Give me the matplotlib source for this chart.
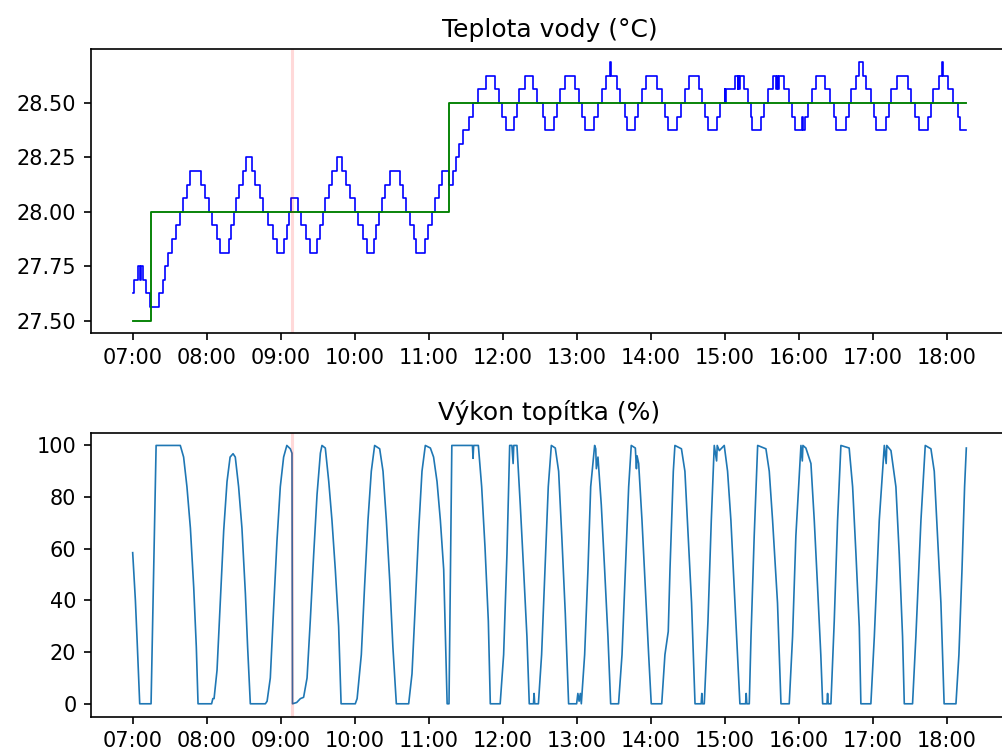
import numpy as np
import matplotlib
matplotlib.use("Agg")
import matplotlib.pyplot as plt
import matplotlib.dates as mdates

# minuty od 07:00
base = np.datetime64('2024-01-01T07:00')

# teplota vody (schody, krok 1/16 °C)
temp_min = [0, 0.8, 4.3, 5.7, 6.8, 8.4, 11, 14.3, 21, 24.6, 26.5, 29, 32, 35.4, 38.6, 41, 44, 46.8,
            55.7, 59, 61.6, 64.3, 68.4, 71, 78, 79.5, 82, 84, 86, 89.5, 92, 96.8, 99.5, 103.5, 106,
            109.5, 114, 117, 122.4, 125, 127, 128.4, 133.8, 136.5, 140.8, 144, 149.5, 151.6, 154,
            156, 159, 161.6, 165.7, 169.7, 173, 176.5, 180.5, 183, 187, 190, 195.4, 197.6, 200, 202,
            205, 209, 217, 219, 221.6, 225, 228, 230, 237.3, 239.5, 242.7, 245, 248, 250.8, 256.8,
            260, 262.5, 265, 268, 272.4, 275.7, 280, 286.5, 294, 296.8, 299.5, 302.7, 309, 311.6,
            313.5, 317.8, 325, 327.8, 332.4, 334.6, 341.4, 344, 346.8, 350.8, 358.4, 361.6, 364, 367,
            373.8, 377.3, 380.5, 383.8, 387.3, 387.8, 392.7, 395.4, 399, 400.8, 407.6, 410, 413, 416,
            425, 429, 432, 434, 441.4, 444.9, 447.6, 450.8, 459, 461.6, 464.3, 466.5, 474, 476, 480,
            480.6, 481, 488.6, 490.5, 491.2, 492, 492.6, 496, 498.6, 501, 502, 509.5, 512, 515, 519.5,
            522, 522.8, 523.5, 524, 528.4, 532, 534.6, 537.3, 542.5, 543.2, 545.4, 547.3, 551, 554,
            561.6, 565.4, 569, 570, 578.4, 580.5, 582.4, 586.5, 588.6, 592.4, 594.6, 598.6, 601,
            602.7, 610.8, 613, 615, 620, 628.4, 631, 634.6, 638, 644.6, 647.3, 648.6, 653.5, 656,
            656.8, 660.8, 665, 669, 671, 676]
temp_val = [27.625, 27.6875, 27.75, 27.6875, 27.75, 27.6875, 27.625, 27.5625, 27.625, 27.6875, 27.75,
            27.8125, 27.875, 27.9375, 28.0, 28.0625, 28.125, 28.1875,
            28.125, 28.0625, 28.0, 27.9375, 27.875, 27.8125, 27.875, 27.9375, 28.0, 28.0625, 28.125,
            28.1875, 28.25, 28.1875, 28.125, 28.0625, 28.0,
            27.9375, 27.875, 27.8125, 27.875, 27.9375, 28.0, 28.0625, 28.0, 27.9375, 27.875, 27.8125,
            27.875, 27.9375, 28.0,
            28.0625, 28.125, 28.1875, 28.25, 28.1875, 28.125, 28.0625, 28.0, 27.9375, 27.875, 27.8125,
            27.875, 27.9375, 28.0, 28.0625,
            28.125, 28.1875, 28.125, 28.0625, 28.0, 27.9375, 27.875, 27.8125, 27.875, 27.9375, 28.0,
            28.0625, 28.125, 28.1875, 28.125,
            28.1875, 28.25, 28.3125, 28.375, 28.4375, 28.5, 28.5625, 28.625, 28.5625, 28.5, 28.4375,
            28.375, 28.4375, 28.5,
            28.5625, 28.625, 28.5625, 28.5, 28.4375, 28.375, 28.4375, 28.5, 28.5625, 28.625, 28.5625,
            28.5, 28.4375, 28.375,
            28.4375, 28.5, 28.5625, 28.625, 28.6875, 28.625, 28.5625, 28.5, 28.4375, 28.375, 28.4375,
            28.5, 28.5625, 28.625,
            28.5625, 28.5, 28.4375, 28.375, 28.4375, 28.5, 28.5625, 28.625, 28.5625, 28.5, 28.4375,
            28.375, 28.4375, 28.5, 28.5625,
            28.5, 28.5625, 28.625, 28.5625, 28.625, 28.5625, 28.625, 28.5625, 28.5, 28.4375, 28.375,
            28.4375, 28.5, 28.5625, 28.625,
            28.5625, 28.625, 28.5625, 28.625, 28.5625, 28.5, 28.4375, 28.375, 28.4375, 28.375, 28.4375,
            28.5, 28.5625, 28.625,
            28.5625, 28.5, 28.4375, 28.375, 28.4375, 28.5, 28.5625, 28.625, 28.6875, 28.625, 28.5625,
            28.5, 28.4375,
            28.375, 28.4375, 28.5, 28.5625, 28.625, 28.5625, 28.5, 28.4375, 28.375, 28.4375, 28.5,
            28.5625, 28.625, 28.6875,
            28.625, 28.5625, 28.5, 28.4375, 28.375, 28.375]

# pozadovana teplota
set_min = [0, 14.9, 256.8, 676]
set_val = [27.5, 28.0, 28.5, 28.5]

# vykon topitka v %
heat_min = [0, 2.2, 3.6, 5.7, 14.9, 19, 38.6, 41.3, 44, 46.8, 49.5, 51.6, 53,
            64, 65, 66, 68.4, 71, 73.8, 76.5, 79, 81.4, 83.2, 85.9, 88.6, 91.4, 93.2, 95.4,
            107.6, 109, 111.6, 114.3, 117, 119.7, 122.4, 125, 127.8, 129.2, 129.6,
            133, 136, 138.6, 141.4, 144, 146.8, 149.5, 152.2, 153.5, 156.2, 159, 161.6, 164.3, 167, 169,
            180.5, 182, 185.4, 188, 190.8, 193.5, 196.2, 200.3, 203, 205.7, 208.4, 211, 213.8,
            223.8, 226.5, 229.2, 231.9, 234.6, 237.3, 241.4, 244, 246.8, 249.5, 252.2, 255, 256.5,
            258.8, 275.5, 276, 276.5, 280.3, 283, 285.7, 288.4, 290,
            298, 300.8, 303.5, 305.7, 307.5, 308.5, 309, 311.6, 314.3, 317, 319.7, 321.6,
            325, 325.5, 326, 329, 331.6, 334.3, 337, 339.5, 342.7, 345.4, 348, 350.8, 353.5,
            360, 361, 362, 363, 363.8, 366.5, 369.2, 371.4, 374.6, 375.5, 376, 377.3, 380, 382.7, 385.4, 387.6,
            394, 396.8, 399.5, 402.2, 404.3, 407.6, 408.5, 409, 410.3, 413, 415.7, 418.4, 420.5,
            429, 431.6, 434.3, 435.7, 438.4, 439.7, 445, 447.8, 450.5, 453.2, 456,
            461, 461.5, 462, 463.5, 466.5, 469.2, 471.6, 473.5, 474, 475.7, 479.7, 482.4, 485.1,
            487.8, 490.5, 492.4,
            497, 497.5, 498, 500, 501.4, 504, 506.8, 513.5, 516.2, 518.9, 522.9, 525.7,
            532.4, 535.1, 537.8, 541.9, 543, 543.5, 545.9, 550, 552.7, 555.4, 558, 559.5,
            563, 563.5, 564, 566.2, 568.9, 571.6, 574.3, 581, 583.8, 586.5, 589.2, 590.5,
            598.6, 601.4, 605.4, 609.5, 611, 611.5, 614.9, 618.9, 621.6, 624.3, 625.7,
            632.4, 635.1, 639.2, 642.7, 647.3, 650, 652.7, 655.4, 658,
            667.6, 670, 672.5, 674.6, 676]
heat_val = [58.5, 40, 24.5, 0, 0, 100, 100, 95.5, 84, 68, 45, 22, 0,
            0, 2, 2, 13, 39, 67, 86, 95.5, 96.8, 95.5, 84, 68, 42.6, 22, 0,
            0, 1, 10, 37, 63, 84, 95.5, 100, 98.7, 97, 0,
            0.5, 2, 2.5, 10, 32, 58, 81, 97, 100, 99, 86, 71, 52, 30, 0,
            0, 2, 19, 45, 71, 90, 100, 98.7, 90, 71, 48, 22, 0,
            0, 11.6, 38.7, 67, 90, 100, 99, 95.5, 86, 71, 52, 0, 0,
            100, 100, 95, 100, 100, 84, 60.6, 32, 0,
            0, 19, 58, 100, 100, 93, 100, 100, 77, 52, 26, 0,
            0, 4, 0, 0, 19, 52, 84, 100, 99, 90, 64.5, 35, 0,
            0, 4, 1, 4, 0, 19, 52, 84, 100, 98.7, 91, 95.5, 77, 52, 26, 0,
            0, 19, 52, 84, 100, 99, 91, 96, 93, 71, 45, 19, 0,
            0, 19, 28, 52, 90, 100, 98.7, 90, 64.5, 39, 0,
            0, 4, 0, 0, 32, 71, 100, 94, 100, 98, 100, 90, 71,
            45, 19, 0,
            0, 4, 0, 0, 26, 65, 100, 98.7, 90, 71, 39, 0,
            0, 26, 65, 100, 94, 100, 99, 93, 71, 45, 19, 0,
            0, 4, 0, 0, 32, 71, 100, 99, 84, 58, 29.7, 0,
            0, 26, 71, 100, 93, 100, 98, 84, 58, 26, 0,
            0, 26, 71, 100, 98.7, 90, 64.5, 39, 0,
            0, 19, 52, 84, 99]

restart_min = 129

# prevod minut na cas
def to_time(minutes):
    return base + (np.array(minutes) * 60).astype('timedelta64[s]')

fig = plt.figure(figsize=(1002 / 150, 754 / 150), dpi=150)
ax1 = fig.add_subplot(2, 1, 1)
ax2 = fig.add_subplot(2, 1, 2)
fig.subplots_adjust(left=91 / 1002, right=1008 / 1002, top=1 - 49.3 / 754,
                    bottom=1 - 716.7 / 754, hspace=99 / 284)

ax1.plot(to_time(temp_min), temp_val, color='blue', linewidth=0.8, drawstyle='steps-post')
ax1.plot(to_time(set_min), set_val, color='green', linewidth=0.9, drawstyle='steps-post')
ax1.axvline(to_time([restart_min])[0], color='red', alpha=0.15)
ax1.set_title("Teplota vody (°C)")
ax1.set_yticks([27.5, 27.75, 28.0, 28.25, 28.5])
ax1.yaxis.set_major_formatter(matplotlib.ticker.FormatStrFormatter('%.2f'))

ax2.plot(to_time(heat_min), heat_val, color='tab:blue', linewidth=0.8)
ax2.axvline(to_time([restart_min])[0], color='red', alpha=0.15)
ax2.set_title("Výkon topítka (%)")
ax2.set_yticks([0, 20, 40, 60, 80, 100])

for ax in (ax1, ax2):
    ax.xaxis.set_major_locator(mdates.HourLocator(interval=1))
    ax.xaxis.set_major_formatter(mdates.DateFormatter('%H:%M'))

fig.savefig("out.png", dpi=150)
